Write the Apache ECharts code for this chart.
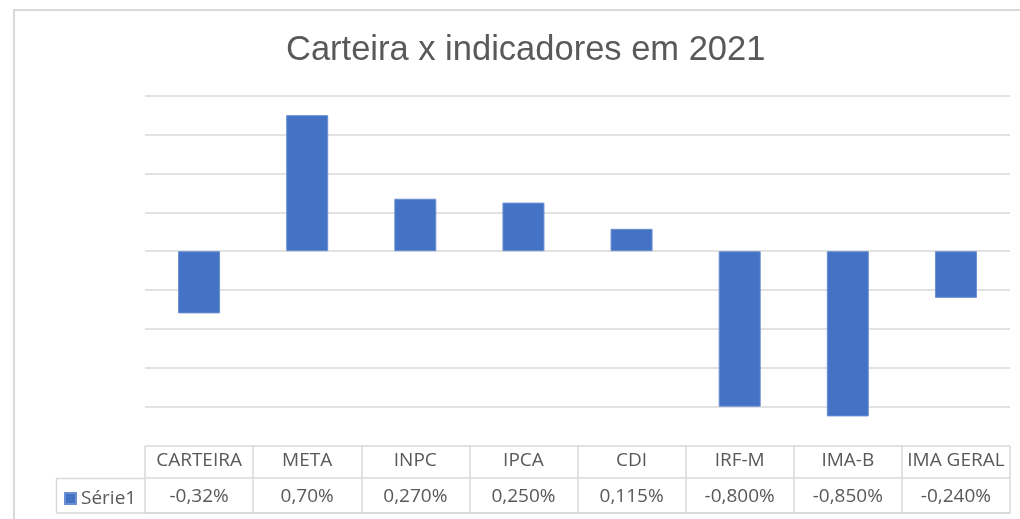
<!DOCTYPE html>
<html>
<head>
<meta charset="utf-8">
<script src="https://cdn.jsdelivr.net/npm/echarts@6/dist/echarts.min.js"></script>
<style>
html,body{margin:0;padding:0;background:#fff;}
#chart{width:1020px;height:519px;}
</style>
</head>
<body>
<div id="chart"></div>
<script>
const titleText = 'Carteira x indicadores em 2021';
const seriesName = 'Série1';
const categories = ['CARTEIRA', 'META', 'INPC', 'IPCA', 'CDI', 'IRF-M', 'IMA-B', 'IMA GERAL'];
const values = [-0.32, 0.70, 0.27, 0.25, 0.115, -0.80, -0.85, -0.24];
const tableLabels = ['-0,32%', '0,70%', '0,270%', '0,250%', '0,115%', '-0,800%', '-0,850%', '-0,240%'];
const yMin = -0.8, yMax = 0.8, yStep = 0.2;

const gridColor = '#d9d9d9';
const textColor = '#595959';
const tableFont = "'Open Sans', 'Noto Sans', sans-serif";

const chart = echarts.init(document.getElementById('chart'), null, {renderer: 'canvas'});
chart.setOption({
  animation: false,
  backgroundColor: '#ffffff',
  title: {
    text: titleText,
    left: 281,
    top: 28,
    textStyle: {fontFamily: "'Liberation Sans', Arial, sans-serif", fontSize: 34.5, fontWeight: 'normal', color: textColor}
  },
  legend: {
    data: [seriesName],
    left: 59,
    top: 484,
    icon: 'rect',
    itemWidth: 11,
    itemHeight: 11,
    itemGap: 6,
    textStyle: {fontFamily: tableFont, fontSize: 19, color: textColor}
  },
  graphic: [
    {type: 'rect', shape: {x: 14, y: 10, width: 1100, height: 600}, style: {fill: 'none', stroke: gridColor, lineWidth: 2}, silent: true},
    {type: 'polyline', shape: {points: [[145, 478.5], [56.5, 478.5], [56.5, 513], [145, 513]]}, style: {fill: 'none', stroke: gridColor, lineWidth: 1.5}, silent: true}
  ],
  grid: [
    {left: 145, right: 10, top: 95.7, bottom: 112.3},
    {left: 145, right: 10, top: 446, bottom: 6}
  ],
  xAxis: [
    {type: 'category', gridIndex: 0, data: categories, axisLine: {show: false}, axisTick: {show: false}, axisLabel: {show: false}, splitLine: {show: false}},
    {type: 'category', gridIndex: 1, position: 'top', data: categories,
      axisLine: {show: true, lineStyle: {color: gridColor, width: 1.5}}, axisTick: {show: false},
      splitLine: {show: true, lineStyle: {color: gridColor, width: 1.5}},
      axisLabel: {inside: true, margin: 5, fontFamily: tableFont, fontSize: 19, color: textColor, interval: 0}},
    {type: 'category', gridIndex: 1, position: 'bottom', data: tableLabels,
      axisLine: {show: true, lineStyle: {color: gridColor, width: 1.5}}, axisTick: {show: false},
      axisLabel: {inside: true, margin: 7, fontFamily: tableFont, fontSize: 19, color: textColor, interval: 0}}
  ],
  yAxis: [
    {type: 'value', gridIndex: 0, min: yMin, max: yMax, interval: yStep,
      axisLine: {show: false}, axisTick: {show: false}, axisLabel: {show: false},
      splitLine: {show: true, lineStyle: {color: gridColor, width: 1.5}}},
    {type: 'value', gridIndex: 1, min: 0, max: 67, interval: 35,
      axisLine: {show: false}, axisTick: {show: false}, axisLabel: {show: false},
      splitLine: {show: true, lineStyle: {color: gridColor, width: 1.5}}}
  ],
  series: [{
    name: seriesName,
    type: 'bar',
    xAxisIndex: 0,
    yAxisIndex: 0,
    data: values,
    barWidth: 42,
    clip: false,
    itemStyle: {color: '#4472c4', borderColor: '#6b8fd2', borderWidth: 1}
  }]
});
</script>
</body>
</html>
